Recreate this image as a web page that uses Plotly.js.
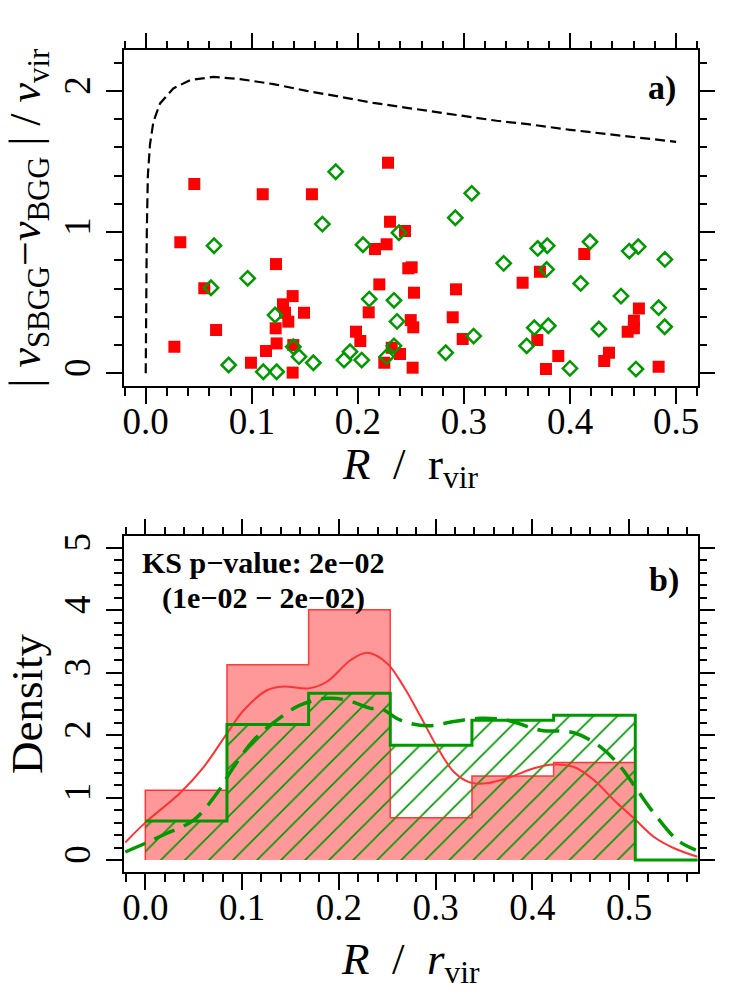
<!DOCTYPE html>
<html><head><meta charset="utf-8">
<script src="https://cdn.plot.ly/plotly-3.0.1.min.js"></script>
<style>html,body{margin:0;padding:0;background:#fff}#chart{width:747px;height:997px}</style>
</head><body><div id="chart"></div>
<script>
// ---- panel a) data ----
const redR = [0.0458,0.1103,0.1567,0.0326,0.1228,0.0552,0.1385,0.1294,0.1313,0.1492,0.1344,0.1225,0.0663,0.1234,0.1134,0.1391,0.027,0.0992,0.1385,
  0.2284,0.2303,0.2444,0.2271,0.2161,0.2475,0.2507,0.2202,0.2529,0.2925,0.2102,0.2498,0.2522,0.2894,0.1982,0.2023,0.2988,0.2319,0.2397,0.2249,0.2516,
  0.4134,0.3716,0.3553,0.4649,0.4602,0.4543,0.4602,0.3691,0.3889,0.3773,0.4367,0.4322,0.4835];
const redV = [1.341,1.268,1.268,0.928,0.774,0.602,0.547,0.489,0.429,0.429,0.366,0.319,0.307,0.212,0.158,0.2,0.188,0.075,0.005,
  1.492,1.074,1.008,0.914,0.880,0.744,0.751,0.630,0.571,0.595,0.432,0.377,0.326,0.397,0.295,0.229,0.243,0.181,0.137,0.075,0.040,
  0.845,0.720,0.642,0.460,0.373,0.295,0.319,0.236,0.123,0.030,0.146,0.087,0.047];
const greenR = [0.1665,0.0644,0.0961,0.0615,0.1219,0.1391,0.1445,0.158,0.0782,0.1108,0.1234,
  0.1791,0.3073,0.2918,0.2387,0.2048,0.3374,0.2107,0.234,0.2369,0.3091,0.234,0.2271,0.1926,0.1869,0.2036,0.2828,
  0.3695,0.3785,0.4188,0.3779,0.4558,0.4643,0.4894,0.41,0.448,0.4835,0.4892,0.4272,0.3795,0.3663,0.3591,0.3999,0.4621];
const greenV = [1.057,0.904,0.673,0.606,0.413,0.188,0.118,0.075,0.059,0.011,0.011,
  1.428,1.275,1.102,0.996,0.911,0.779,0.526,0.517,0.368,0.264,0.195,0.118,0.153,0.094,0.094,0.146,
  0.885,0.904,0.932,0.736,0.866,0.897,0.807,0.637,0.547,0.465,0.330,0.314,0.337,0.323,0.195,0.035,0.030];
const curveR = [0,0.0003,0.001,0.002,0.004,0.0072,0.0135,0.026,0.0418,0.0637,0.0889,0.1203,0.1517,0.1831,0.2145,0.246,0.2774,0.3088,0.3308,0.36,0.4,0.45,0.5];
const curveV = [0,0.5,1.0,1.4,1.62,1.782,1.912,2.018,2.077,2.10,2.084,2.049,2.001,1.959,1.916,1.881,1.846,1.813,1.789,1.765,1.725,1.682,1.64];

// ---- panel b) data ----
const binEdges = [0,0.0844,0.1688,0.2532,0.3376,0.422,0.5064];
const redDensity = [1.12,3.13,4.01,0.68,1.345,1.564];
const greenDensity = [0.625,2.17,2.67,1.84,2.24,2.32];
const kdeRedR = [-0.0207,0.0,0.0362,0.0603,0.0845,0.1017,0.1259,0.1431,0.169,0.188,0.212,0.2293,0.25,0.267,0.2845,0.3017,0.319,0.336,0.3535,0.3776,0.4017,0.4224,0.443,0.4638,0.4845,0.505,0.5258,0.5465,0.5707];
const kdeRedD = [0.283,0.6,1.08,1.49,2.03,2.40,2.72,2.78,2.75,2.86,3.2,3.32,3.15,2.78,2.30,1.81,1.41,1.24,1.23,1.33,1.47,1.53,1.49,1.28,0.96,0.67,0.37,0.19,0.053];
const kdeGreenR = [-0.0207,0.0,0.0224,0.05,0.074,0.0913,0.112,0.136,0.160,0.188,0.2086,0.2328,0.243,0.2638,0.2914,0.319,0.3465,0.374,0.4086,0.443,0.4707,0.4914,0.5086,0.5258,0.55,0.569];
const kdeGreenD = [0.13,0.27,0.43,0.64,1.07,1.49,1.92,2.24,2.48,2.59,2.56,2.43,2.43,2.24,2.15,2.22,2.27,2.24,2.08,2.04,1.81,1.49,1.12,0.75,0.32,0.16];

// ---- texts ----
const xTitleA = '<i>R</i>  /  r<sub>vir</sub>';
const xTitleB = '<i>R</i>  /  <i>r</i><sub>vir</sub>';
const yTitleA = '| <i>v</i><sub>SBGG</sub>−<i>v</i><sub>BGG</sub> | / <i>v</i><sub>vir</sub>';
const yTitleB = 'Density';
const ksLine1 = 'KS p−value: 2e−02';
const ksLine2 = '(1e−02 − 2e−02)';

const FONT = 'Liberation Serif, serif';
const RED = '#ff0000';
const GREEN = '#009900';
const XMAX_B = 0.571;

const nb = binEdges.length - 1;
const centers = binEdges.slice(0,-1).map((e,i)=>(e+binEdges[i+1])/2);
const widths = binEdges.slice(0,-1).map((e,i)=>binEdges[i+1]-e);
const gStepX = binEdges.slice(0,-1).concat([binEdges[nb], XMAX_B]);
const gStepY = greenDensity.concat([0,0]);
const rStepX = [binEdges[0]].concat(binEdges);
const rStepY = [0].concat(redDensity, [0]);

const traces = [
  {x:curveR, y:curveV, xaxis:'x', yaxis:'y', mode:'lines', line:{color:'black', width:2.2, dash:'10px,5px'}, hoverinfo:'skip'},
  {x:redR, y:redV, xaxis:'x', yaxis:'y', mode:'markers', marker:{symbol:'square', size:12, color:RED, line:{width:0}}},
  {x:greenR, y:greenV, xaxis:'x', yaxis:'y', mode:'markers', marker:{symbol:'diamond-open', size:11, color:GREEN, line:{width:2.5, color:GREEN}}},
  {type:'bar', x:centers, y:redDensity, width:widths, xaxis:'x2', yaxis:'y2', marker:{color:'rgba(255,0,0,0.4)', line:{width:0}}},
  {x:rStepX, y:rStepY, xaxis:'x2', yaxis:'y2', mode:'lines', line:{color:'rgba(255,30,30,0.85)', width:1.5, shape:'hv'}},
  {type:'bar', x:centers, y:greenDensity, width:widths, xaxis:'x2', yaxis:'y2', marker:{color:'rgba(0,0,0,0)', line:{width:0}, pattern:{shape:'/', fgcolor:GREEN, bgcolor:'rgba(0,0,0,0)', size:17, solidity:0.1}}},
  {x:kdeRedR, y:kdeRedD, xaxis:'x2', yaxis:'y2', mode:'lines', line:{color:'#ff3333', width:2, shape:'spline'}},
  {x:gStepX, y:gStepY, xaxis:'x2', yaxis:'y2', mode:'lines', line:{color:GREEN, width:3, shape:'hv'}},
  {x:kdeGreenR, y:kdeGreenD, xaxis:'x2', yaxis:'y2', mode:'lines', line:{color:GREEN, width:3.5, dash:'22px,10px', shape:'spline'}},
  // empty traces to register the mirror-tick axes
  {x:[], y:[], xaxis:'x3', yaxis:'y', mode:'lines', hoverinfo:'skip'},
  {x:[], y:[], xaxis:'x', yaxis:'y3', mode:'lines', hoverinfo:'skip'},
  {x:[], y:[], xaxis:'x4', yaxis:'y2', mode:'lines', hoverinfo:'skip'},
  {x:[], y:[], xaxis:'x2', yaxis:'y4', mode:'lines', hoverinfo:'skip'}
];

const common = {showline:true, linewidth:2, linecolor:'black', mirror:true, ticks:'outside', ticklen:16, tickwidth:2, tickcolor:'black',
  showgrid:false, zeroline:false, automargin:false, tickfont:{family:FONT, size:37, color:'black'}};
const minorX = {dtick:0.02, tick0:0, ticklen:8, tickwidth:2, tickcolor:'black', ticks:'outside', showgrid:false};
const minorY = {dtick:0.2, tick0:0, ticklen:8, tickwidth:2, tickcolor:'black', ticks:'outside', showgrid:false};
const mirrorAx = {showline:false, ticks:'outside', ticklen:16, tickwidth:2, tickcolor:'black', showticklabels:false,
  showgrid:false, zeroline:false, automargin:false, fixedrange:true};
const titleFont = {family:FONT, size:45, color:'black'};

const XA = [-0.0202,0.5204], YA = [-0.09,2.29], XB = [-0.0217,XMAX_B], YB = [-0.19,5.19];
const XDOM = [0.1664,0.9341], YDOMA = [0.6128,0.9498], YDOMB = [0.1254,0.4624];

const layout = {
  width:747, height:997, margin:{l:0,r:0,t:0,b:0}, paper_bgcolor:'white', plot_bgcolor:'white',
  showlegend:false, barmode:'overlay', bargap:0,
  xaxis:Object.assign({}, common, {domain:XDOM, range:XA, anchor:'y', dtick:0.1, tick0:0, tickformat:'.1f', minor:minorX, ticklabelstandoff:-14}),
  yaxis:Object.assign({}, common, {domain:YDOMA, range:YA, anchor:'x', dtick:1, tick0:0, tickangle:-90, minor:minorY, ticklabelstandoff:2,
    title:{text:yTitleA, font:{family:FONT, size:44, color:'black'}, standoff:0}}),
  xaxis2:Object.assign({}, common, {domain:XDOM, range:XB, anchor:'y2', dtick:0.1, tick0:0, tickformat:'.1f', minor:minorX, ticklabelstandoff:-14}),
  yaxis2:Object.assign({}, common, {domain:YDOMB, range:YB, anchor:'x2', dtick:1, tick0:0, tickangle:-90, minor:minorY, ticklabelstandoff:2,
    title:{text:yTitleB, font:titleFont, standoff:0}}),
  xaxis3:Object.assign({}, mirrorAx, {overlaying:'x', side:'top', anchor:'y', range:XA, dtick:0.1, tick0:0, minor:minorX}),
  yaxis3:Object.assign({}, mirrorAx, {overlaying:'y', side:'right', anchor:'x', range:YA, dtick:1, tick0:0, minor:minorY}),
  xaxis4:Object.assign({}, mirrorAx, {overlaying:'x2', side:'top', anchor:'y2', range:XB, dtick:0.1, tick0:0, minor:minorX}),
  yaxis4:Object.assign({}, mirrorAx, {overlaying:'y2', side:'right', anchor:'x2', range:YB, dtick:1, tick0:0, minor:minorY}),
  annotations:[
    {xref:'paper', yref:'paper', x:0.5502, y:1-467/997, text:xTitleA, showarrow:false, font:titleFont, xanchor:'center', yanchor:'middle'},
    {xref:'paper', yref:'paper', x:0.5502, y:1-962/997, text:xTitleB, showarrow:false, font:titleFont, xanchor:'center', yanchor:'middle'},
    {xref:'paper', yref:'paper', x:0.8858, y:0.9117, text:'<b>a)</b>', showarrow:false, font:{family:FONT, size:34, color:'black'}, xanchor:'center', yanchor:'middle'},
    {xref:'paper', yref:'paper', x:0.889, y:0.4183, text:'<b>b)</b>', showarrow:false, font:{family:FONT, size:34, color:'black'}, xanchor:'center', yanchor:'middle'},
    {xref:'paper', yref:'paper', x:0.3534, y:0.4363, text:'<b>'+ksLine1+'</b>', showarrow:false, font:{family:FONT, size:30, color:'black'}, xanchor:'center', yanchor:'middle'},
    {xref:'paper', yref:'paper', x:0.3534, y:0.4002, text:'<b>'+ksLine2+'</b>', showarrow:false, font:{family:FONT, size:30, color:'black'}, xanchor:'center', yanchor:'middle'}
  ]
};
Plotly.newPlot('chart', traces, layout, {displayModeBar:false, staticPlot:true});
</script></body></html>
